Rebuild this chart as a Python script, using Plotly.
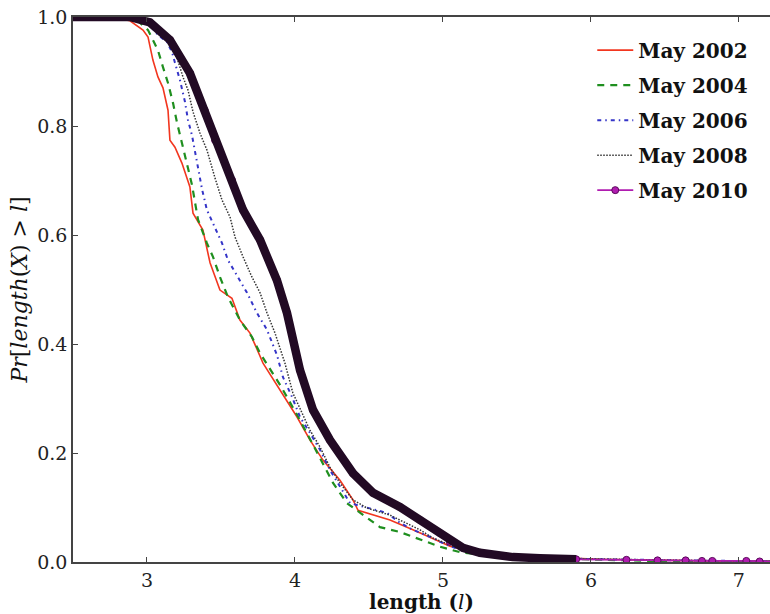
import plotly.graph_objects as go

# ---- data ----
x2002 = [2.5, 2.75, 2.885, 2.973, 3.007, 3.04, 3.074, 3.108, 3.142, 3.155, 3.189, 3.236, 3.29, 3.311,
         3.378, 3.426, 3.493, 3.574, 3.628, 3.696, 3.784, 3.899, 4.014, 4.101, 4.189, 4.304, 4.392,
         4.426, 4.642, 4.797, 4.912, 4.98, 5.047, 5.18, 5.52, 6.06, 6.74, 7.25]
y2002 = [1.0, 1.0, 0.993, 0.976, 0.963, 0.921, 0.89, 0.87, 0.829, 0.774, 0.761, 0.732, 0.688, 0.64,
         0.609, 0.549, 0.499, 0.484, 0.444, 0.42, 0.365, 0.316, 0.266, 0.224, 0.187, 0.15, 0.114,
         0.095, 0.077, 0.059, 0.046, 0.037, 0.029, 0.02, 0.011, 0.005, 0.002, 0.001]

x2004 = [2.5, 2.784, 2.919, 3.007, 3.04, 3.074, 3.108, 3.142, 3.176, 3.203, 3.236, 3.27, 3.304, 3.345,
         3.405, 3.446, 3.493, 3.547, 3.628, 3.709, 3.764, 3.899, 4.014, 4.122, 4.257, 4.351, 4.574,
         4.709, 4.892, 4.98, 5.115, 5.385, 5.79, 6.4, 7.25]
y2004 = [1.0, 1.0, 0.998, 0.976, 0.958, 0.939, 0.908, 0.879, 0.842, 0.806, 0.769, 0.732, 0.692, 0.628,
         0.585, 0.56, 0.523, 0.486, 0.444, 0.413, 0.383, 0.325, 0.27, 0.215, 0.145, 0.108, 0.064,
         0.055, 0.037, 0.028, 0.018, 0.009, 0.006, 0.002, 0.001]

x2006 = [2.5, 2.851, 3.0, 3.074, 3.135, 3.169, 3.189, 3.223, 3.257, 3.277, 3.304, 3.338, 3.372, 3.405,
         3.446, 3.507, 3.547, 3.615, 3.676, 3.743, 3.811, 3.878, 3.919, 3.98, 4.034, 4.101, 4.169,
         4.236, 4.304, 4.372, 4.622, 4.709, 4.797, 4.932, 4.98, 5.08, 5.25, 5.655, 6.33, 7.25]
y2006 = [1.0, 1.0, 0.991, 0.967, 0.954, 0.936, 0.916, 0.884, 0.844, 0.811, 0.783, 0.732, 0.684, 0.646,
         0.622, 0.585, 0.554, 0.523, 0.494, 0.457, 0.426, 0.38, 0.339, 0.303, 0.266, 0.237, 0.206,
         0.169, 0.138, 0.108, 0.09, 0.072, 0.059, 0.044, 0.037, 0.026, 0.017, 0.007, 0.004, 0.001]

x2008 = [2.5, 2.885, 3.054, 3.155, 3.203, 3.243, 3.277, 3.311, 3.358, 3.405, 3.459, 3.507, 3.561, 3.595,
         3.649, 3.709, 3.764, 3.811, 3.865, 3.919, 3.932, 3.986, 4.047, 4.101, 4.169, 4.236, 4.304,
         4.392, 4.486, 4.642, 4.709, 4.845, 4.932, 5.014, 5.115, 5.318, 5.723, 6.4, 7.25]
y2008 = [1.0, 1.0, 0.985, 0.952, 0.925, 0.89, 0.866, 0.826, 0.787, 0.756, 0.705, 0.664, 0.633, 0.596,
         0.56, 0.523, 0.494, 0.457, 0.42, 0.376, 0.365, 0.31, 0.273, 0.242, 0.211, 0.174, 0.145,
         0.114, 0.099, 0.086, 0.077, 0.059, 0.044, 0.035, 0.024, 0.015, 0.007, 0.004, 0.001]

x2010 = [2.5, 2.885, 3.02, 3.155, 3.29, 3.39, 3.46, 3.574, 3.649, 3.764, 3.878, 3.946, 4.034, 4.122,
         4.236, 4.392, 4.527, 4.709, 4.845, 4.98, 5.047, 5.135, 5.25, 5.473, 5.655, 5.9, 6.24, 6.45,
         6.64, 6.75, 6.82, 7.05, 7.14, 7.25]
y2010 = [1.0, 1.0, 0.99, 0.958, 0.897, 0.829, 0.774, 0.701, 0.646, 0.591, 0.517, 0.457, 0.352, 0.279,
         0.224, 0.163, 0.127, 0.101, 0.077, 0.053, 0.037, 0.026, 0.017, 0.009, 0.007, 0.005, 0.004,
         0.003, 0.003, 0.002, 0.002, 0.002, 0.001, 0.001]

labels = ["May 2002", "May 2004", "May 2006", "May 2008", "May 2010"]
x_ticks = [3, 4, 5, 6, 7]
y_ticks = [0.0, 0.2, 0.4, 0.6, 0.8, 1.0]

SERIF = "DejaVu Serif"
MAGENTA = "#b01cb0"

fig = go.Figure()

fig.add_trace(go.Scatter(x=x2002, y=y2002, mode="lines", name=f"<b>{labels[0]}</b>", legendrank=1,
                         legendgroup="g1", line=dict(color="#f2361f", width=1.6)))
fig.add_trace(go.Scatter(x=x2004, y=y2004, mode="lines", name=f"<b>{labels[1]}</b>", legendrank=2,
                         legendgroup="g2", line=dict(color="#1f8f1f", width=2.2, dash="7px,6px")))
fig.add_trace(go.Scatter(x=x2006, y=y2006, mode="lines", name=f"<b>{labels[2]}</b>", legendrank=3,
                         legendgroup="g3", line=dict(color="#3535c8", width=2.0, dash="4px,4px,1.5px,4px")))
fig.add_trace(go.Scatter(x=x2008, y=y2008, mode="lines", name=f"<b>{labels[3]}</b>", legendrank=4,
                         legendgroup="g4", line=dict(color="#333333", width=1.5, dash="1.5px,1.5px")))
fig.add_trace(go.Scatter(x=x2010, y=y2010, mode="lines+markers", name=f"<b>{labels[4]}</b>", legendrank=5,
                         legendgroup="g5", line=dict(color=MAGENTA, width=1.8),
                         marker=dict(size=7, color=MAGENTA, line=dict(color="#5a0a5a", width=1))))
# dense dark band formed by the overlapping May 2010 markers
band_x = [v for v in x2010 if v <= 6.0]
band_y = [y2010[i] for i, v in enumerate(x2010) if v <= 6.0]
fig.add_trace(go.Scatter(x=band_x, y=band_y, mode="lines", showlegend=False, hoverinfo="skip",
                         legendgroup="g5", line=dict(color="#220a24", width=8.5)))

axis_common = dict(showline=True, linecolor="#444444", linewidth=1.5, ticks="inside", ticklen=5,
                   tickcolor="#444444", tickwidth=1, showgrid=False, zeroline=False,
                   tickfont=dict(family=SERIF, size=19, color="#222222"))

fig.update_layout(
    width=770, height=614,
    margin=dict(l=73, r=0, t=17, b=52),
    plot_bgcolor="white", paper_bgcolor="white",
    xaxis=dict(range=[2.5, 7.21], tickvals=x_ticks, ticktext=[str(t) for t in x_ticks], mirror="ticks",
               title=dict(text="<b>length (</b><i>l</i><b>)</b>", font=dict(family=SERIF, size=20, color="#111111"),
                          standoff=2),
               **axis_common),
    yaxis=dict(range=[0, 1.0], tickvals=y_ticks, ticktext=[f"{t:.1f}" for t in y_ticks], mirror=False,
               title=dict(text="<i>Pr</i>[<i>length</i>(<i>X</i>) &gt; <i>l</i>]",
                          font=dict(family=SERIF, size=22, color="#111111"), standoff=4),
               **axis_common),
    legend=dict(x=0.745, y=0.975, xanchor="left", yanchor="top", bgcolor="rgba(0,0,0,0)",
                font=dict(family=SERIF, size=20, color="#111111"), tracegroupgap=6,
                itemwidth=36, traceorder="grouped"),
    showlegend=True,
)

fig.write_html("out.html")
